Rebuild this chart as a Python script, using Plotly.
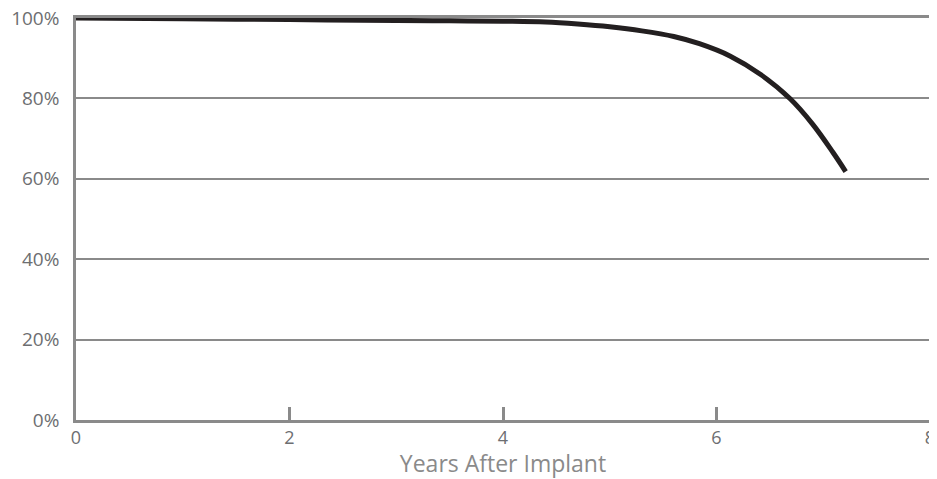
import plotly.graph_objects as go

years = [0, 1, 2, 3, 3.5, 4, 4.4, 4.7, 5.0, 5.3, 5.6, 5.84, 6.13, 6.41, 6.69, 6.9, 7.09, 7.21]
survival = [100, 99.8, 99.6, 99.4, 99.3, 99.2, 99.0, 98.5, 97.8, 96.8, 95.4, 93.6, 90.5, 86.0, 79.9, 73.6, 66.6, 61.8]

x_ticks = [0, 2, 4, 6, 8]
y_ticks = [0, 20, 40, 60, 80, 100]
y_labels = ["0%", "20%", "40%", "60%", "80%", "100%"]

GRAY = "#8a8a8a"
FONT = "Open Sans, DejaVu Sans, sans-serif"

fig = go.Figure()
fig.add_trace(go.Scatter(
    x=years, y=survival, mode="lines",
    line=dict(color="#231f20", width=5, shape="spline", smoothing=1.0),
    showlegend=False, hoverinfo="skip", cliponaxis=False,
))

# page body has an 8px default margin, so the figure is sized/offset to compensate
fig.update_layout(
    width=929, height=471,
    margin=dict(l=68, r=7, t=10, b=59, autoexpand=False),
    paper_bgcolor="white", plot_bgcolor="white",
    font=dict(family=FONT, color="#6d6e71", size=19),
)
fig.update_xaxes(
    range=[0, 8], tickvals=x_ticks, ticktext=[str(v) for v in x_ticks],
    showgrid=False, zeroline=False, automargin=False,
    showline=True, linecolor=GRAY, linewidth=2.5, mirror=True,
    ticks="inside", ticklen=13, tickwidth=2.5, tickcolor=GRAY,
    ticklabeloverflow="allow",
    tickfont=dict(size=18, color="#6d6e71"),
    title=dict(text="Years After Implant", font=dict(size=23, color="#8a8a8a"), standoff=6),
)
fig.update_yaxes(
    range=[0, 100], tickvals=y_ticks, ticktext=y_labels,
    showgrid=True, gridcolor=GRAY, gridwidth=2,
    zeroline=False, automargin=False,
    showline=True, linecolor=GRAY, linewidth=2.5, mirror=True,
    ticks="outside", ticklen=10, tickcolor="rgba(0,0,0,0)",
    ticklabeloverflow="allow",
    tickfont=dict(size=19, color="#6d6e71"),
)

fig.write_html("out.html")
